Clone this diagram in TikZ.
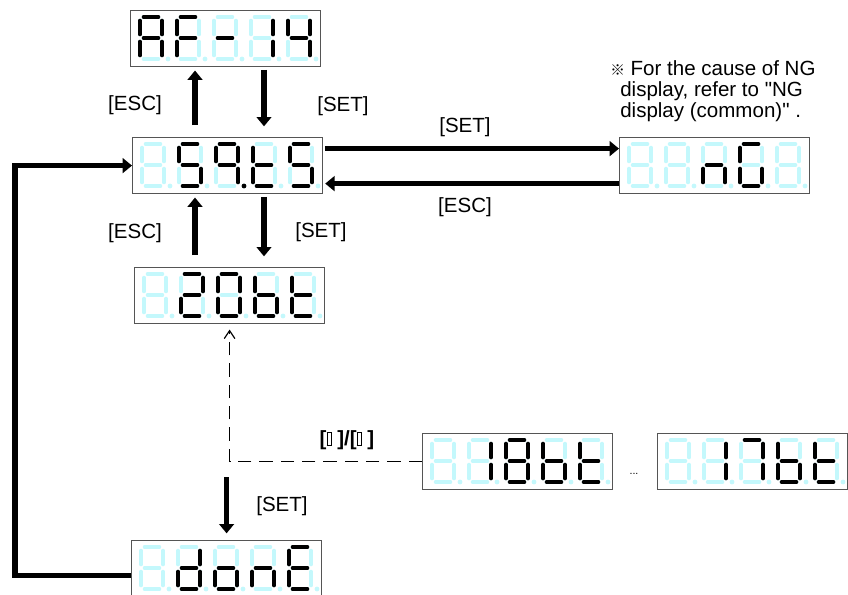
\documentclass[tikz,border=0pt]{standalone}
\usepackage{fontspec}
\setmainfont{Liberation Sans}[Ligatures=TeXOff]
\newfontfamily\cjk{Noto Sans CJK JP}
\usetikzlibrary{arrows.meta, calc}

\definecolor{segoff}{RGB}{196,248,252}
\definecolor{boxline}{RGB}{85,85,85}

% seven segment digit, origin at top left, 22 x 42 px
\tikzset{
    seg/.style={line width=3.5pt, line cap=round},
    seg a/.pic={\draw[seg] (4,0) -- (18,0);},
    seg b/.pic={\draw[seg] (22,4) -- (22,17);},
    seg c/.pic={\draw[seg] (22,25) -- (22,38);},
    seg d/.pic={\draw[seg] (4,42) -- (18,42);},
    seg e/.pic={\draw[seg] (0,25) -- (0,38);},
    seg f/.pic={\draw[seg] (0,4) -- (0,17);},
    seg g/.pic={\draw[seg] (4,21) -- (18,21);},
    seg p/.pic={\fill (28,42) circle (1.8pt);},
    seg x/.pic={}
}

% #1 display node, #2 lit segments of its five digits
\newcommand{\segdisplay}[2]{%
    \foreach \lit [count=\i from 0] in {#2} {
        \begin{scope}[shift={($(#1.north west)+(10+37*\i,7)$)}]
            \foreach \s in {a,b,c,d,e,f,g,p} {\pic[segoff] {seg \s};}
            \foreach \s in \lit {\pic[black] {seg \s};}
        \end{scope}
    }%
}

\newcommand{\keybox}{{\setlength\fboxsep{0pt}\setlength\fboxrule{0.7pt}%
    \fbox{\rule{0pt}{9.5pt}\hspace{2.4pt}}}}

\begin{document}
\begin{tikzpicture}[
        x=0.75pt, y=-0.75pt,
        every node/.style={
            font=\fontsize{15.4}{16}\selectfont
        },
        disp/.style={
            rectangle,
            draw=boxline,
            line width=0.9pt,
            minimum width=190*0.75pt,
            minimum height=56*0.75pt,
            inner sep=0pt,
            anchor=north west
        },
        lbl/.style={
            inner sep=0pt
        },
        bigarrow/.style={
            line width=4pt,
            -{Triangle[length=7pt,width=11pt]}
        },
        uparrow/.style={
            bigarrow,
            shorten <=9pt,
            shorten >=2.5pt
        },
        downarrow/.style={
            bigarrow,
            shorten <=2pt,
            shorten >=8pt
        },
        dasharrow/.style={
            line width=0.9pt,
            dash pattern=on 10pt off 6pt,
            -{Straight Barb[length=6pt,width=8pt]}
        }
    ]

    \useasboundingbox (0,0) rectangle (848,594);

    % Displays

    \node[disp] (af14) at (130,10) {};
    \node[disp] (menu) at (132,137) {};
    \node[disp] (bit20) at (134,267) {};
    \node[disp] (ngdisp) at (619,137) {};
    \node[disp] (donedisp) at (131,540) {};
    \node[disp] (bit18) at (422,433) {};
    \node[disp] (bit17) at (657,433) {};

    \segdisplay{af14}{{a,b,c,e,f,g},{a,e,f,g},{g},{b,c},{b,c,f,g}}
    \segdisplay{menu}{{x},{a,c,d,f,g},{a,b,c,f,g,p},{d,e,f,g},{a,c,d,f,g}}
    \segdisplay{bit20}{{x},{a,b,d,e,g},{a,b,c,d,e,f},{c,d,e,f,g},{d,e,f,g}}
    \segdisplay{ngdisp}{{x},{x},{c,e,g},{a,c,d,e,f},{x}}
    \segdisplay{donedisp}{{x},{b,c,d,e,g},{c,d,e,g},{c,e,g},{a,d,e,f,g}}
    \segdisplay{bit18}{{x},{b,c},{a,b,c,d,e,f,g},{c,d,e,f,g},{d,e,f,g}}
    \segdisplay{bit17}{{x},{b,c},{a,b,c},{c,d,e,f,g},{d,e,f,g}}

    % Key arrows

    \coordinate (escx) at (195,0);
    \coordinate (setx) at (264,0);
    \coordinate (loopx) at (15,0);

    \draw[uparrow] (escx |- menu.north) -- (escx |- af14.south);
    \draw[downarrow] (setx |- af14.south) -- (setx |- menu.north);
    \draw[uparrow] (escx |- bit20.north) -- (escx |- menu.south);
    \draw[downarrow] (setx |- menu.south) -- (setx |- bit20.north);

    \draw[bigarrow] ($(menu.east)+(2,-17)$) -- ($(ngdisp.west)+(0,-17)$);
    \draw[bigarrow] ($(ngdisp.west)+(0,18)$) -- ($(menu.east)+(2,18)$);

    \coordinate (doneout) at ($(donedisp.west)+(0,7)$);
    \draw[bigarrow] (doneout) -- (loopx |- doneout) |- (menu.west);

    \draw[dasharrow, shorten >=4pt] (bit18.west) -| (bit20.south);

    \coordinate (setfrom) at ($(donedisp.north)+(0,-63)$);
    \draw[bigarrow, shorten >=5pt] (setfrom) -- (donedisp.north);

    % Labels

    \node[lbl] (esc1) at (135,105) {[ESC]};
    \node[lbl] (set1) at (343,106) {[SET]};
    \node[lbl] (esc2) at (135,233) {[ESC]};
    \node[lbl] (set2) at (321,232) {[SET]};
    \node[lbl] (set3) at (465,127) {[SET]};
    \node[lbl] (esc3) at (465,207) {[ESC]};
    \node[lbl] (set4) at (282,506) {[SET]};
    \node[lbl, font=\fontsize{15.4}{16}\selectfont\bfseries] (keys) at (347,440)
    {[\keybox\ ]/[\keybox\ ]};
    \node[lbl, font=\fontsize{8}{8}\selectfont] (more) at (634,474) {...};

    \node[lbl, anchor=north west, align=left] (note) at (620,60)
    {\hspace*{-7.5pt}{\cjk\fontsize{11}{11}\selectfont ※} For the cause of NG\\
    display, refer to "NG\\
    display (common)" .};

\end{tikzpicture}
\end{document}
